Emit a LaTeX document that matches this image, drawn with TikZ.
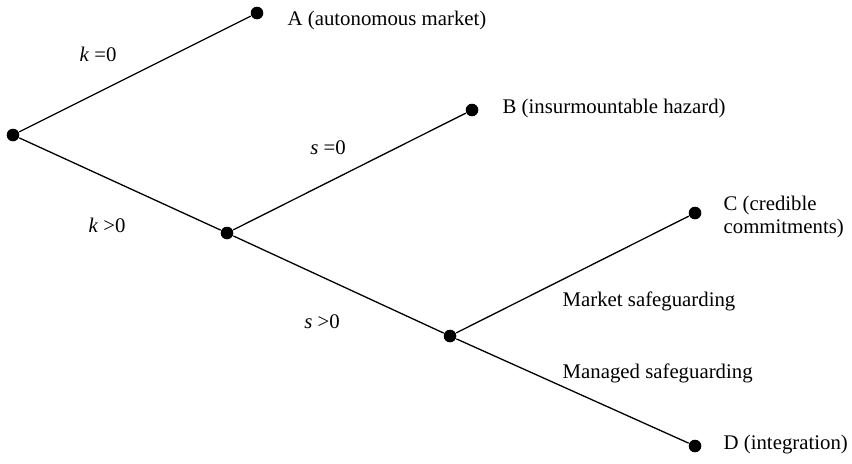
\documentclass[tikz,border=0pt]{standalone}
\usepackage{fontspec}
\setmainfont{Liberation Serif}
\begin{document}
\begin{tikzpicture}[x=0.5pt,y=-0.5pt,line width=0.65pt,
  font=\fontsize{10.4}{11.5}\selectfont,
  dot/.style={circle,fill,inner sep=0,minimum size=6.3pt},
  lab/.style={anchor=west,inner sep=0,align=left}]
\useasboundingbox (0,0) rectangle (852,463);
\node[dot] (r) at (13,135) {};
\node[dot] (a) at (257,13) {};
\node[dot] (m) at (227,233) {};
\node[dot] (b) at (472,110) {};
\node[dot] (n) at (450,336) {};
\node[dot] (c) at (695,213) {};
\node[dot] (d) at (695,446) {};
\foreach \u/\v in {r/a,r/m,m/b,m/n,n/c,n/d}
\draw (\u) -- (\v);
\node[lab] (la) at (287,20) {A (autonomous market)};
\node[lab] (lb) at (502,108) {B (insurmountable hazard)};
\node[lab] (lc) at (723,217) {C (credible\\commitments)};
\node[lab] (ld) at (723,445) {D (integration)};
\node (k0) at (98,54) {\textit{k} =0};
\node (k1) at (107,225) {\textit{k} >0};
\node (s0) at (328,148) {\textit{s} =0};
\node (s1) at (322,322) {\textit{s} >0};
\node[lab] (ms) at (562,301) {Market safeguarding};
\node[lab] (gs) at (562,373) {Managed safeguarding};
\end{tikzpicture}
\end{document}
